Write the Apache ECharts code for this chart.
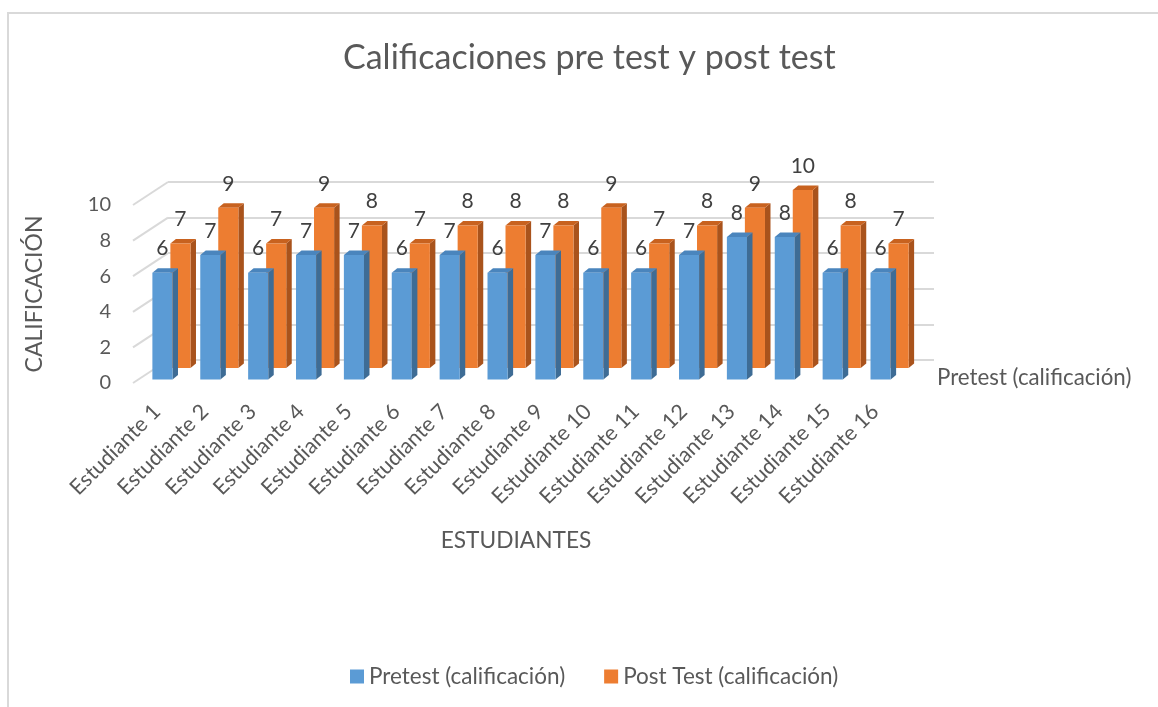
<!DOCTYPE html>
<html>
<head>
<meta charset="utf-8">
<script src="https://cdn.jsdelivr.net/npm/echarts@6/dist/echarts.min.js"></script>
<style>
html,body{margin:0;padding:0;background:#fff;}
#chart{width:1158px;height:707px;}
</style>
</head>
<body>
<div id="chart"></div>
<script>
const categories = ['Estudiante 1','Estudiante 2','Estudiante 3','Estudiante 4','Estudiante 5','Estudiante 6','Estudiante 7','Estudiante 8','Estudiante 9','Estudiante 10','Estudiante 11','Estudiante 12','Estudiante 13','Estudiante 14','Estudiante 15','Estudiante 16'];
const pretest = [6,7,6,7,7,6,7,6,7,6,6,7,8,8,6,6];
const postTest = [7,9,7,9,8,7,8,8,8,9,7,8,9,10,8,7];
const yTicks = [0,2,4,6,8,10];

const FONT = 'Lato';
const TXT = '#595959';

// depth geometry (pixels)
const WALL_DX = 35, WALL_DY = -23;
const BAR_DDX = 5.5, BAR_DDY = -4.5;

function barRenderer(dx, dy, front, side, topc) {
  return function (params, api) {
    const i = api.value(0), v = api.value(1);
    const base = api.coord([i, 0]);
    const top = api.coord([i, v]);
    const band = api.size([1, 0])[0];
    const w = band * 0.42;
    const x0 = base[0] + dx - w / 2, x1 = x0 + w;
    const yb = base[1] + dy, yt = top[1] + dy;
    return {
      type: 'group',
      children: [
        { type: 'polygon', shape: { points: [[x1, yb], [x1 + BAR_DDX, yb + BAR_DDY], [x1 + BAR_DDX, yt + BAR_DDY], [x1, yt]] }, style: { fill: side } },
        { type: 'polygon', shape: { points: [[x0, yt], [x1, yt], [x1 + BAR_DDX, yt + BAR_DDY], [x0 + BAR_DDX, yt + BAR_DDY]] }, style: { fill: topc } },
        { type: 'rect', shape: { x: x0, y: yt, width: w, height: yb - yt }, style: { fill: front } },
        { type: 'text', x: x0 + w / 2, y: yt - 24, style: { text: String(v), fill: '#404040', font: '21px ' + FONT, align: 'center', verticalAlign: 'middle' } }
      ]
    };
  };
}

const chart = echarts.init(document.getElementById('chart'));
chart.setOption({
  backgroundColor: '#fff',
  animation: false,
  textStyle: { fontFamily: FONT },
  title: {
    text: 'Calificaciones pre test y post test',
    left: 338, top: 36,
    textStyle: { fontFamily: FONT, fontSize: 34, fontWeight: 'normal', color: TXT }
  },
  legend: {
    bottom: 14, left: 345,
    icon: 'rect', itemWidth: 14, itemHeight: 14, itemGap: 39,
    textStyle: { fontFamily: FONT, fontSize: 22.5, color: TXT },
    data: ['Pretest (calificación)', 'Post Test (calificación)']
  },
  graphic: [
    { type: 'rect', shape: { x: 8, y: 13, width: 1300, height: 900 }, style: { fill: 'none', stroke: '#D9D9D9', lineWidth: 2 }, z: -1 },
    { type: 'text', left: 937, top: 367, style: { text: 'Pretest (calificación)', font: '22.3px ' + FONT, fill: TXT } }
  ],
  grid: [
    { left: 133, top: 205, width: 766, height: 178 },
    { left: 133 + WALL_DX, top: 205 + WALL_DY, width: 766, height: 178 }
  ],
  xAxis: [
    {
      type: 'category', gridIndex: 0, data: categories,
      axisLine: { show: false }, axisTick: { show: false },
      axisLabel: { rotate: 45, margin: 25, fontSize: 21.5, color: TXT, fontFamily: FONT, interval: 0 },
      name: 'ESTUDIANTES', nameLocation: 'middle', nameGap: 146,
      nameTextStyle: { fontSize: 22.7, color: TXT, fontFamily: FONT }
    },
    { type: 'category', gridIndex: 1, data: categories, show: false }
  ],
  yAxis: [
    {
      type: 'value', gridIndex: 0, min: 0, max: 10, interval: 2,
      axisLine: { show: false }, axisTick: { show: false }, splitLine: { show: false },
      axisLabel: { margin: 22, fontSize: 20, color: TXT, fontFamily: FONT },
      name: 'CALIFICACIÓN', nameLocation: 'middle', nameGap: 87,
      nameTextStyle: { fontSize: 23, color: TXT, fontFamily: FONT }
    },
    {
      type: 'value', gridIndex: 1, min: 0, max: 10, interval: 2,
      axisLine: { show: false }, axisTick: { show: false }, axisLabel: { show: false },
      splitLine: { show: true, lineStyle: { color: '#D9D9D9', width: 2 } }
    }
  ],
  series: [
    {
      type: 'custom', name: 'leftWall', xAxisIndex: 0, yAxisIndex: 0, z: 1, silent: true,
      data: yTicks.map(v => [0, v]),
      renderItem: function (params, api) {
        const p = api.coord([0, api.value(1)]);
        const band = api.size([1, 0])[0];
        const xl = p[0] - band / 2;
        return { type: 'line', shape: { x1: xl, y1: p[1], x2: xl + WALL_DX, y2: p[1] + WALL_DY }, style: { stroke: '#D9D9D9', lineWidth: 2 } };
      }
    },
    {
      type: 'custom', name: 'Post Test (calificación)', xAxisIndex: 0, yAxisIndex: 0, z: 2,
      itemStyle: { color: '#ED7D31' },
      data: postTest.map((v, i) => [i, v]),
      renderItem: barRenderer(23.5, -15, '#ED7D31', '#A9531C', '#C8621F')
    },
    {
      type: 'custom', name: 'Pretest (calificación)', xAxisIndex: 0, yAxisIndex: 0, z: 3,
      itemStyle: { color: '#5B9BD5' },
      data: pretest.map((v, i) => [i, v]),
      renderItem: barRenderer(5.5, -3.5, '#5B9BD5', '#3E6C95', '#4A85BD')
    }
  ]
});
</script>
</body>
</html>
